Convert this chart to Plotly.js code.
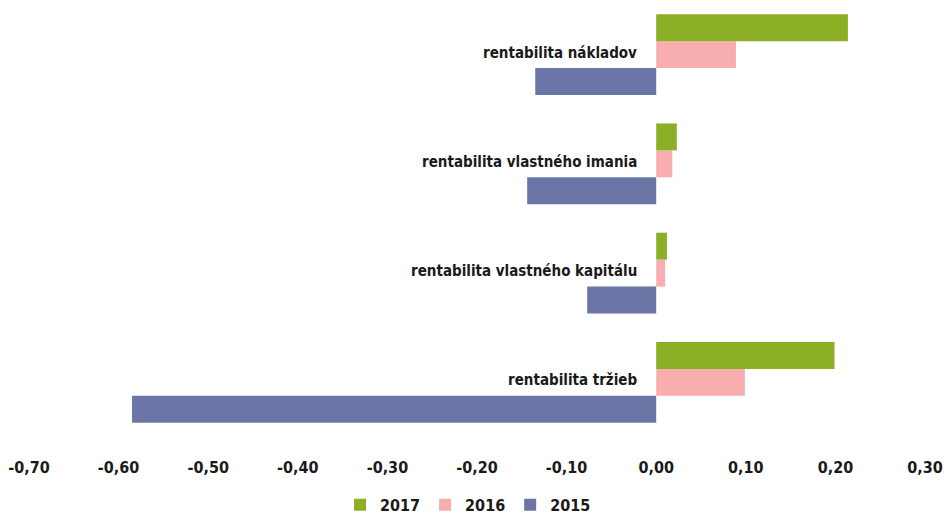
<!DOCTYPE html>
<html>
<head>
<meta charset="utf-8">
<script src="https://cdn.plot.ly/plotly-3.0.1.min.js"></script>
<style>html,body{margin:0;padding:0;background:#fff;}#chart{width:947px;height:515px;}</style>
</head>
<body>
<div id="chart"></div>
<script>
// bottom-to-top category order (Plotly draws first category at bottom)
const categories = ['rentabilita tržieb', 'rentabilita vlastného kapitálu', 'rentabilita vlastného imania', 'rentabilita nákladov'];
const values2015 = [-0.585, -0.077, -0.144, -0.135];
const values2016 = [0.099, 0.010, 0.018, 0.089];
const values2017 = [0.199, 0.012, 0.023, 0.214];
const xTicks = [-0.7, -0.6, -0.5, -0.4, -0.3, -0.2, -0.1, 0, 0.1, 0.2, 0.3];
const xTickText = xTicks.map(v => v.toFixed(2).replace('.', ','));

const FONT = '"Liberation Sans Narrow", "DejaVu Sans Condensed", "Open Sans", sans-serif';

const traces = [
  {name: '2015', values: values2015, color: '#6C76A6'},
  {name: '2016', values: values2016, color: '#F8AEAE'},
  {name: '2017', values: values2017, color: '#8DAF26'}
].map(s => ({
  type: 'bar', orientation: 'h', name: s.name,
  x: s.values, y: categories,
  marker: {color: s.color},
  hoverinfo: 'x+name'
}));

const annotations = categories.map(c => ({
  x: 0, y: c, xref: 'x', yref: 'y',
  text: c, showarrow: false,
  xanchor: 'right', yanchor: 'middle',
  xshift: -17, yshift: 2,
  font: {family: FONT, size: 15, color: '#1a1a1a', weight: 'bold'}
}));

const layout = {
  width: 947, height: 515,
  margin: {l: 29, r: 22, t: 0, b: 78, autoexpand: false},
  paper_bgcolor: '#fff', plot_bgcolor: '#fff',
  barmode: 'group',
  bargap: 0.26,
  bargroupgap: 0,
  showlegend: true,
  legend: {
    orientation: 'h', traceorder: 'reversed',
    x: 0.49, xanchor: 'center', y: -0.155, yanchor: 'middle',
    font: {family: FONT, size: 16, color: '#1a1a1a', weight: 'bold'},
    itemwidth: 30
  },
  xaxis: {
    range: [-0.7, 0.3], tickvals: xTicks, ticktext: xTickText,
    showgrid: false, zeroline: false, showline: false, ticks: '',
    ticklabelstandoff: 19,
    tickfont: {family: FONT, size: 16, color: '#1a1a1a', weight: 'bold'}
  },
  yaxis: {
    categoryorder: 'array', categoryarray: categories,
    showticklabels: false, showgrid: false, zeroline: false, showline: false, ticks: ''
  },
  annotations: annotations
};

Plotly.newPlot('chart', traces, layout, {displayModeBar: false, staticPlot: true});
</script>
</body>
</html>
